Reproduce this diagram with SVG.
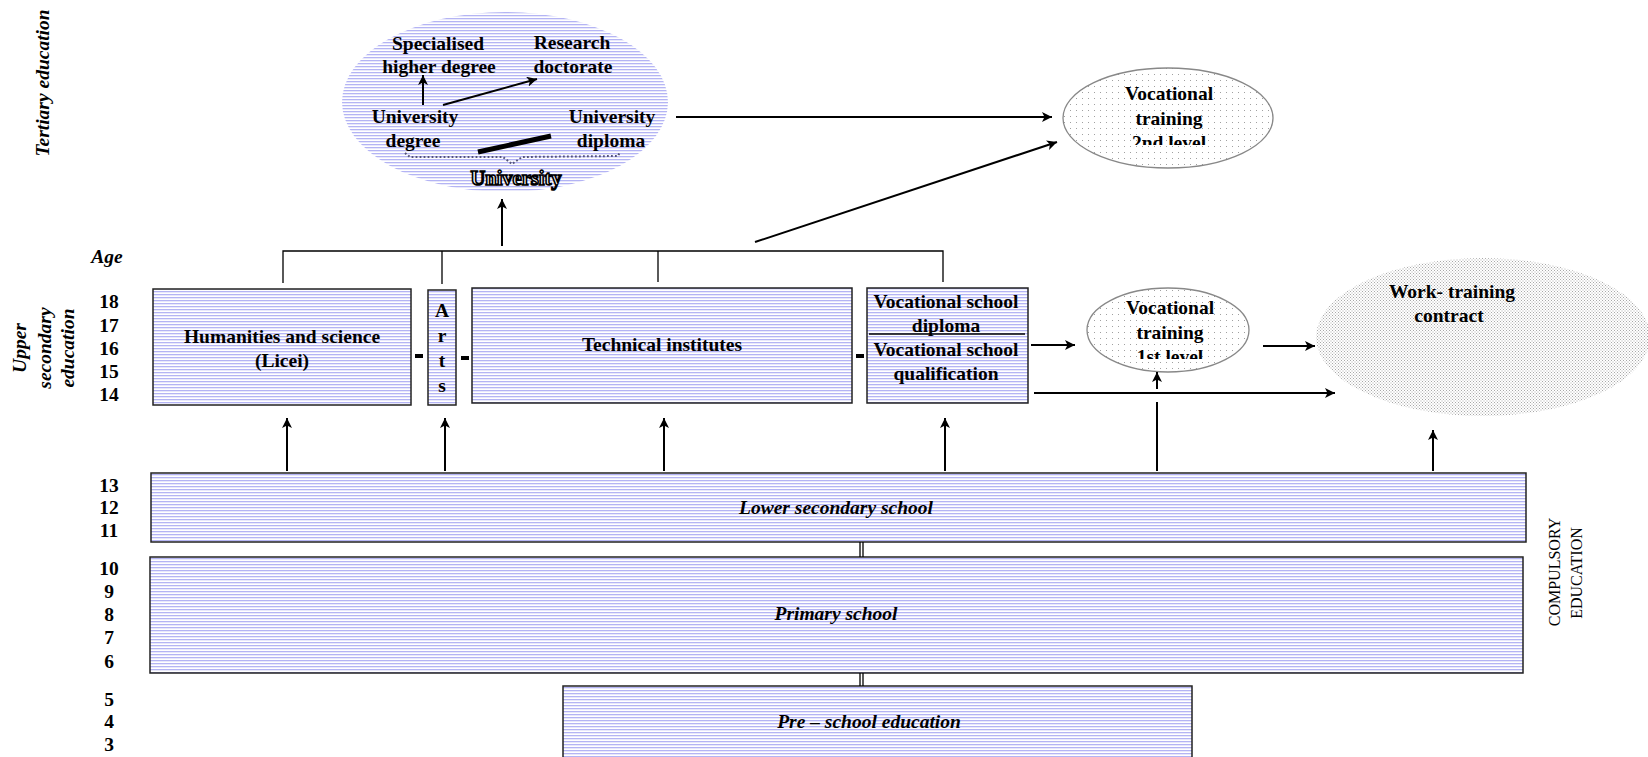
<svg xmlns="http://www.w3.org/2000/svg" width="1648" height="757" viewBox="0 0 1648 757">
<defs>
<pattern id="hatch" width="6" height="3" patternUnits="userSpaceOnUse">
<rect width="6" height="3" fill="#ffffff"/>
<rect y="0" width="6" height="1.3" fill="#b4b4f4"/>
</pattern>
<pattern id="dots" width="6" height="6" patternUnits="userSpaceOnUse">
<rect width="6" height="6" fill="#ffffff"/>
<rect x="2" y="2" width="1" height="1" fill="#a0a0a0"/>
</pattern>
<pattern id="dense" width="3" height="3" patternUnits="userSpaceOnUse">
<rect width="3" height="3" fill="#ffffff"/>
<rect x="0" y="0" width="1" height="1" fill="#a8a8a8"/>
<rect x="1.5" y="1.5" width="1" height="1" fill="#a8a8a8"/>
</pattern>
<marker id="arr" viewBox="0 0 10 10" refX="10" refY="5" markerWidth="5" markerHeight="5" orient="auto" markerUnits="strokeWidth">
<path d="M0,0 L10,5 L0,10 L2.5,5 z" fill="#000"/>
</marker>
<clipPath id="clip2"><rect x="1060" y="60" width="220" height="85"/></clipPath>
<clipPath id="clip1"><rect x="1080" y="280" width="180" height="79"/></clipPath>
<style>
.t{font-family:"Liberation Serif","Times New Roman",serif;font-weight:bold;font-size:19.5px;fill:#000;text-anchor:middle}
.bi{font-style:italic}
.r{font-family:"Liberation Serif","Times New Roman",serif;font-size:16px;fill:#000;text-anchor:middle}
.box{fill:url(#hatch);stroke:#222;stroke-width:1.5}
.ln{stroke:#000;stroke-width:2;fill:none}
.thin{stroke:#000;stroke-width:1.3;fill:none}
.ar{stroke:#000;stroke-width:2;fill:none;marker-end:url(#arr)}
</style>
</defs>
<rect width="1648" height="757" fill="#fff"/>

<g id="labels">
<text class="t bi" transform="translate(49,83) rotate(-90)">Tertiary education</text>
<text class="t bi" transform="translate(26,348) rotate(-90)">Upper</text>
<text class="t bi" transform="translate(51,348) rotate(-90)">secondary</text>
<text class="t bi" transform="translate(74,348) rotate(-90)">education</text>
<text class="t bi" x="107" y="263">Age</text>
<text class="t" x="109" y="308">18</text>
<text class="t" x="109" y="331.5">17</text>
<text class="t" x="109" y="354.5">16</text>
<text class="t" x="109" y="377.5">15</text>
<text class="t" x="109" y="400.5">14</text>
<text class="t" x="109" y="491.5">13</text>
<text class="t" x="109" y="514">12</text>
<text class="t" x="109" y="537">11</text>
<text class="t" x="109" y="574.5">10</text>
<text class="t" x="109" y="597.5">9</text>
<text class="t" x="109" y="621">8</text>
<text class="t" x="109" y="643.5">7</text>
<text class="t" x="109" y="667.5">6</text>
<text class="t" x="109" y="705.5">5</text>
<text class="t" x="109" y="728">4</text>
<text class="t" x="109" y="751">3</text>
<text class="r" transform="translate(1560,572) rotate(-90)">COMPULSORY</text>
<text class="r" transform="translate(1582,573) rotate(-90)">EDUCATION</text>
</g>

<g id="university">
<ellipse cx="505" cy="102" rx="163" ry="90" fill="url(#hatch)"/>
<text class="t" x="438" y="50">Specialised</text>
<text class="t" x="439" y="73">higher degree</text>
<text class="t" x="572" y="49">Research</text>
<text class="t" x="573" y="73">doctorate</text>
<text class="t" x="415" y="123">University</text>
<text class="t" x="413" y="147">degree</text>
<text class="t" x="612" y="123">University</text>
<text class="t" x="611" y="147">diploma</text>
<line class="ar" x1="423" y1="105" x2="423" y2="75"/>
<line class="ar" x1="443" y1="105" x2="537" y2="79"/>
<line x1="478" y1="152" x2="551" y2="136" stroke="#000" stroke-width="5"/>
<polyline points="405,153 410,157 503,157 512,164 522,157 618,156 620,152" fill="none" stroke="#55557a" stroke-width="2" stroke-dasharray="1.8 2.2"/>
<text class="t" x="516" y="185" style="font-size:20.5px;fill:#fff;stroke:#000;stroke-width:1.6px;paint-order:normal">University</text>
</g>

<g id="voc2">
<ellipse cx="1168" cy="118" rx="105" ry="50" fill="url(#dots)" stroke="#888" stroke-width="1.3"/>
<text class="t" x="1169" y="100">Vocational</text>
<text class="t" x="1169" y="125">training</text>
<text class="t" x="1169" y="149" clip-path="url(#clip2)">2nd level</text>
</g>

<g id="humanities">
<rect class="box" x="153" y="289" width="258" height="116"/>
<text class="t" x="282" y="343">Humanities and science</text>
<text class="t" x="282" y="367">(Licei)</text>
</g>

<g id="arts">
<rect class="box" x="428" y="290" width="28" height="115"/>
<text class="t" x="442" y="317">A</text>
<text class="t" x="442" y="342">r</text>
<text class="t" x="442" y="367">t</text>
<text class="t" x="442" y="392">s</text>
</g>

<g id="technical">
<rect class="box" x="472" y="288" width="380" height="115"/>
<text class="t" x="662" y="351">Technical institutes</text>
</g>

<g id="vocschool">
<rect class="box" x="867" y="288" width="161" height="115"/>
<text class="t" x="946" y="308">Vocational school</text>
<text class="t" x="946" y="332">diploma</text>
<line x1="869" y1="334" x2="1025" y2="334" stroke="#000" stroke-width="1.3"/>
<text class="t" x="946" y="356">Vocational school</text>
<text class="t" x="946" y="380">qualification</text>
</g>

<g id="voc1">
<ellipse cx="1168" cy="330" rx="81" ry="42" fill="url(#dots)" stroke="#888" stroke-width="1.3"/>
<text class="t" x="1170" y="314">Vocational</text>
<text class="t" x="1170" y="339">training</text>
<text class="t" x="1170" y="363" clip-path="url(#clip1)">1st level</text>
</g>

<g id="work">
<ellipse cx="1483" cy="337" rx="167" ry="79" fill="url(#dense)"/>
<text class="t" x="1452" y="298">Work- training</text>
<text class="t" x="1449" y="322">contract</text>
</g>

<g id="lower">
<rect class="box" x="151" y="473" width="1375" height="69"/>
<text class="t bi" x="836" y="514">Lower secondary school</text>
</g>

<g id="primary">
<rect class="box" x="150" y="557" width="1373" height="116"/>
<text class="t bi" x="836" y="620">Primary school</text>
</g>

<g id="preschool">
<rect class="box" x="563" y="686" width="629" height="72"/>
<text class="t bi" x="869" y="728">Pre – school education</text>
</g>

<g id="connectors">
<rect x="415" y="354" width="8" height="4" fill="#000"/>
<rect x="461" y="356" width="8" height="4" fill="#000"/>
<rect x="856" y="354" width="8" height="4" fill="#000"/>
<line x1="860" y1="542" x2="860" y2="557" class="thin"/>
<line x1="863" y1="542" x2="863" y2="557" class="thin"/>
<line x1="860" y1="673" x2="860" y2="686" class="thin"/>
<line x1="863" y1="673" x2="863" y2="686" class="thin"/>
<polyline class="thin" points="283,283 283,251 943,251 943,282"/>
<line class="thin" x1="442" y1="251" x2="442" y2="284"/>
<line class="thin" x1="658" y1="251" x2="658" y2="282"/>
<line class="ar" x1="502" y1="246" x2="502" y2="199"/>
<line class="ar" x1="755" y1="242" x2="1057" y2="142"/>
<line class="ar" x1="676" y1="117" x2="1052" y2="117"/>
<line class="ar" x1="1031" y1="345" x2="1075" y2="345"/>
<line class="ar" x1="1263" y1="346" x2="1315" y2="346"/>
<line class="ar" x1="1034" y1="393" x2="1335" y2="393"/>
<line class="ar" x1="1157" y1="389" x2="1157" y2="372"/>
<line class="ln" x1="1157" y1="471" x2="1157" y2="402"/>
<line class="ar" x1="287" y1="471" x2="287" y2="418"/>
<line class="ar" x1="445" y1="471" x2="445" y2="418"/>
<line class="ar" x1="664" y1="471" x2="664" y2="418"/>
<line class="ar" x1="945" y1="471" x2="945" y2="418"/>
<line class="ar" x1="1433" y1="471" x2="1433" y2="430"/>
</g>
</svg>
